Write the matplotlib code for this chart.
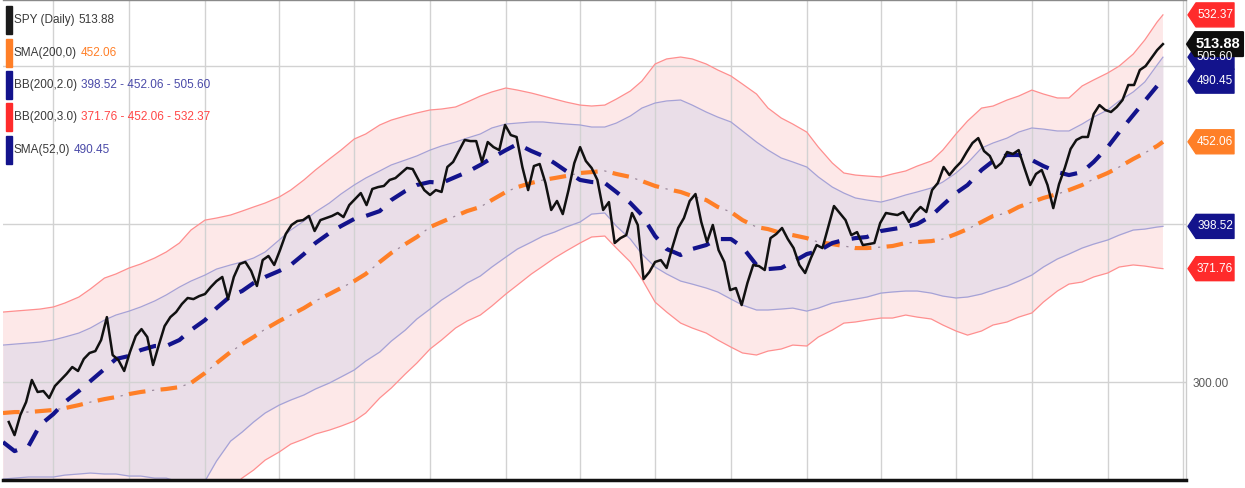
import pandas as pd
import matplotlib
matplotlib.use("Agg")
import matplotlib.pyplot as plt
import matplotlib.dates as mdates
from matplotlib.patches import Polygon, Rectangle
from matplotlib.transforms import IdentityTransform

plt.rcParams['font.family'] = ['Liberation Sans', 'DejaVu Sans']
plt.rcParams['lines.scale_dashes'] = False

# SPY weekly closes
week_dates = pd.date_range('2020-05-08', periods=201, freq='W-FRI')
spy_close = [
    274.7, 266.4, 279.1, 287.3, 301.3, 293.7, 294.3, 289.9, 297.5, 301.3,
    305.1, 309.5, 307.0, 314.6, 318.4, 319.6, 326.6, 341.1, 317.1, 313.9,
    307.0, 319.0, 329.1, 333.5, 328.5, 310.8, 323.4, 335.4, 341.1, 344.3,
    349.4, 353.2, 352.5, 354.4, 355.7, 360.1, 363.9, 366.5, 352.5, 366.5,
    374.7, 376.0, 370.3, 360.8, 377.2, 379.8, 374.1, 383.5, 393.7, 399.4,
    401.9, 402.5, 405.1, 395.6, 402.5, 403.8, 405.1, 407.0, 404.4, 412.0,
    415.8, 419.6, 412.0, 422.2, 423.4, 424.1, 427.9, 429.1, 432.3, 435.5,
    434.8, 427.9, 421.5, 418.4, 421.5, 420.3, 436.1, 439.3, 446.2, 453.2,
    452.5, 452.5, 439.3, 451.9, 448.7, 446.8, 462.7, 456.3, 455.1, 436.1,
    421.5, 436.7, 438.0, 426.0, 408.9, 414.6, 406.3, 421.5, 438.6, 448.7,
    439.9, 435.5, 427.9, 408.9, 413.9, 388.0, 391.1, 393.0, 407.0, 399.4,
    365.2, 369.6, 376.0, 377.2, 372.2, 385.4, 397.5, 403.8, 414.6, 419.0,
    401.3, 388.6, 399.4, 383.5, 376.0, 358.2, 359.5, 348.7, 362.7, 374.1,
    373.4, 370.9, 391.1, 393.7, 397.5, 390.5, 384.8, 374.1, 369.0, 378.5,
    386.7, 384.8, 398.1, 411.4, 407.0, 402.5, 393.0, 394.9, 386.7, 387.3,
    388.0, 400.6, 407.0, 406.3, 405.7, 407.6, 401.3, 407.0, 410.8, 407.6,
    421.5, 426.0, 436.1, 431.0, 435.5, 439.3, 445.6, 451.3, 454.4, 446.2,
    443.1, 435.5, 438.6, 445.6, 444.3, 446.8, 435.5, 424.7, 431.7, 434.2,
    424.7, 410.1, 425.3, 435.5, 447.5, 453.2, 455.1, 455.1, 469.6, 475.3,
    472.2, 470.9, 474.1, 478.5, 488.0, 488.0, 497.5, 500.0, 505.1, 510.1,
    513.88,
]

# indicators, read on the 1st and 15th of each month plus the last bar
band_dates = pd.date_range('2020-05-01', '2024-03-01', freq='SMS').append(
    pd.DatetimeIndex(['2024-03-08']))
sma200 = [
    280.4, 281.0, 281.0, 281.6, 282.3, 283.5, 285.4, 287.3, 289.2, 290.5,
    292.4, 293.7, 294.9, 295.6, 296.8, 299.4, 305.7, 312.0, 319.0, 324.0,
    328.5, 333.5, 338.6, 342.4, 346.8, 351.3, 355.7, 359.5, 363.9, 368.4,
    376.0, 381.7, 387.3, 391.8, 398.1, 401.3, 405.1, 408.2, 410.8, 415.2,
    420.3, 423.4, 426.0, 427.9, 429.1, 430.4, 432.3, 432.9, 433.6, 431.7,
    429.8, 427.2, 424.1, 422.2, 420.3, 417.7, 415.2, 410.8, 407.6, 402.5,
    398.1, 396.8, 394.3, 393.0, 391.1, 388.6, 387.3, 386.1, 384.8, 384.8,
    385.4, 386.1, 388.0, 388.6, 389.2, 390.5, 393.7, 396.8, 401.3, 405.1,
    407.0, 410.8, 413.9, 416.5, 419.0, 421.5, 424.7, 428.5, 432.3, 436.1,
    441.2, 445.0, 449.4, 452.06,
]
sma52 = [
    262.0, 256.3, 259.5, 272.8, 279.7, 287.3, 294.3, 300.6, 308.2, 314.6,
    316.5, 320.2, 322.8, 322.8, 326.6, 332.9, 339.2, 346.8, 354.4, 357.6,
    362.7, 366.5, 370.3, 374.1, 381.0, 388.0, 394.3, 398.7, 403.2, 405.1,
    408.2, 415.2, 420.9, 424.7, 426.6, 426.0, 429.8, 432.9, 437.4, 441.8,
    446.8, 450.6, 446.2, 443.1, 438.6, 433.6, 427.9, 426.6, 426.0, 420.3,
    413.3, 405.7, 392.4, 384.2, 380.4, 384.2, 386.7, 390.5, 390.5, 385.4,
    374.1, 371.5, 372.2, 376.0, 381.0, 382.9, 388.0, 389.9, 391.1, 391.8,
    395.6, 396.8, 398.1, 400.0, 405.1, 412.0, 419.6, 424.7, 434.2, 439.9,
    443.7, 443.7, 440.5, 436.7, 432.9, 431.0, 432.9, 439.3, 448.7, 458.2,
    469.0, 477.9, 487.4, 490.45,
]
bb2_upper = [
    323.4, 324.0, 324.7, 325.3, 326.6, 328.5, 331.0, 334.2, 339.2, 342.4,
    344.9, 347.5, 351.3, 355.1, 360.1, 363.9, 367.7, 371.5, 374.1, 376.0,
    378.5, 382.3, 389.9, 396.2, 401.9, 407.6, 413.3, 419.0, 424.7, 429.1,
    433.6, 437.4, 440.5, 443.1, 446.8, 449.4, 451.9, 454.4, 457.0, 460.8,
    463.3, 463.9, 464.6, 464.6, 463.9, 463.3, 462.7, 461.4, 461.4, 463.9,
    468.4, 473.4, 476.6, 477.9, 478.5, 475.3, 470.9, 467.7, 464.6, 458.9,
    451.9, 446.8, 441.8, 439.3, 436.1, 429.8, 423.4, 419.6, 416.5, 415.2,
    413.9, 415.8, 418.4, 420.3, 422.8, 426.6, 432.3, 438.6, 448.1, 451.3,
    454.4, 458.2, 460.8, 460.1, 458.9, 458.9, 463.3, 467.7, 472.2, 477.9,
    483.6, 489.9, 500.7, 505.60,
]
bb2_lower = [
    238.6, 239.2, 239.9, 239.9, 239.9, 241.1, 241.8, 242.4, 241.8, 241.8,
    240.5, 240.5, 239.2, 239.2, 236.7, 237.3, 237.3, 250.0, 262.6, 268.3,
    274.7, 280.4, 285.4, 288.6, 291.8, 295.6, 299.4, 303.2, 307.6, 313.3,
    319.0, 325.9, 332.9, 339.9, 346.2, 351.9, 357.6, 362.7, 367.1, 372.8,
    379.1, 384.2, 388.6, 392.4, 394.9, 398.1, 401.3, 406.3, 407.0, 398.7,
    390.5, 381.0, 372.8, 368.4, 363.9, 362.0, 359.5, 357.0, 352.5, 348.7,
    345.6, 345.6, 346.2, 346.8, 344.9, 346.8, 350.0, 351.3, 352.5, 353.8,
    356.3, 357.0, 357.6, 357.6, 356.3, 354.4, 353.2, 353.8, 355.7, 358.2,
    360.8, 363.9, 367.7, 372.8, 377.9, 381.0, 384.8, 387.3, 389.9, 393.0,
    396.2, 396.8, 398.1, 398.52,
]
bb3_upper = [
    344.3, 344.9, 345.6, 346.2, 347.5, 350.0, 353.8, 358.9, 365.8, 368.4,
    372.2, 374.7, 378.5, 382.3, 388.0, 396.2, 402.5, 403.8, 405.7, 408.2,
    410.8, 413.3, 417.1, 421.5, 427.9, 434.2, 441.2, 446.8, 453.8, 457.0,
    462.7, 465.8, 468.4, 470.3, 472.2, 472.8, 474.1, 477.2, 481.0, 483.6,
    486.1, 484.8, 482.9, 481.0, 479.1, 477.2, 475.3, 474.7, 475.3, 479.1,
    484.2, 490.5, 501.3, 504.5, 505.7, 504.5, 501.3, 497.5, 493.7, 488.6,
    482.3, 473.4, 467.1, 463.3, 458.2, 448.7, 438.6, 432.3, 431.0, 430.4,
    429.8, 431.7, 433.6, 436.7, 439.9, 446.8, 457.0, 465.2, 473.4, 474.7,
    478.5, 481.0, 484.8, 482.3, 479.8, 479.8, 487.4, 491.2, 495.6, 500.0,
    507.6, 516.5, 527.9, 532.37,
]
bb3_lower = [
    216.4, 217.1, 216.4, 217.1, 217.1, 217.1, 217.1, 215.8, 212.6, 212.6,
    212.6, 212.6, 211.4, 208.8, 205.7, 202.5, 208.8, 220.2, 232.3, 239.2,
    244.3, 250.6, 255.7, 260.7, 263.9, 267.1, 269.6, 272.1, 275.3, 280.4,
    289.9, 296.2, 305.1, 312.0, 320.9, 326.6, 334.2, 338.6, 342.4, 348.1,
    355.7, 361.4, 368.4, 373.4, 378.5, 382.9, 388.0, 391.8, 392.4, 384.8,
    376.0, 365.2, 350.6, 344.3, 337.3, 334.2, 331.0, 326.6, 322.1, 318.4,
    317.1, 319.6, 320.9, 323.4, 322.8, 328.5, 332.9, 337.3, 338.0, 339.2,
    340.5, 340.5, 342.4, 341.1, 339.9, 336.1, 332.3, 329.7, 332.3, 336.1,
    338.0, 341.1, 343.7, 350.6, 357.6, 362.0, 363.3, 366.5, 369.0, 372.8,
    374.1, 373.4, 372.2, 371.76,
]

ORANGE = '#ff7f27'
NAVY = '#13138c'
RED = '#ff2b2b'
VALUE_BLUE = '#4a4aa8'

fig = plt.figure(figsize=(12.45, 4.88), dpi=100)
ax = fig.add_axes([3 / 1245, 8 / 488, 1183 / 1245, 480 / 488])

# bands
ax.fill_between(band_dates, bb3_lower, bb3_upper, color='#fde8e8', lw=0, zorder=0.5)
ax.fill_between(band_dates, bb2_lower, bb2_upper, color='#eadee8', lw=0, zorder=0.6)
ax.plot(band_dates, bb3_upper, color='#ff8f8f', lw=0.9, zorder=2)
ax.plot(band_dates, bb3_lower, color='#ff8f8f', lw=0.9, zorder=2)
ax.plot(band_dates, bb2_upper, color='#a6a2d6', lw=0.9, zorder=2)
ax.plot(band_dates, bb2_lower, color='#a6a2d6', lw=0.9, zorder=2)

# SMA(200): thick orange dashes with a thin dot in each gap
ax.plot(band_dates, sma200, color='#9c8a9c', lw=0.9, zorder=2.1,
        linestyle=(6.2, (1.6, 21.4)))
ax.plot(band_dates, sma200, color=ORANGE, lw=3.0, zorder=2.2,
        linestyle=(0, (12, 11)))
# SMA(52)
ax.plot(band_dates, sma52, color=NAVY, lw=3.0, zorder=2.3,
        linestyle=(0, (12.5, 9)))
# price
ax.plot(week_dates, spy_close, color='#111111', lw=1.8, zorder=3)

ax.set_xlim(pd.Timestamp('2020-05-01'), pd.Timestamp('2024-04-05'))
ax.set_ylim(238.0, 541.8)

ax.xaxis.set_major_locator(mdates.MonthLocator(bymonth=[1, 4, 7, 10]))
ax.set_yticks([300, 400, 500], labels=['300.00', '', ''])
ax.yaxis.tick_right()
ax.tick_params(axis='y', length=0, pad=5, labelsize=8.5, labelcolor='#5a5a5a')
ax.tick_params(axis='x', length=0, labelbottom=False)
ax.grid(True, color='#d2d2d2', lw=1.0)

ax.spines['left'].set_visible(False)
ax.spines['top'].set_color('#8a8a8a')
ax.spines['top'].set_linewidth(1.0)
ax.spines['right'].set_color('#cccccc')
ax.spines['right'].set_linewidth(1.0)
ax.spines['bottom'].set_color('#111111')
ax.spines['bottom'].set_linewidth(2.5)

# legend rows at top-left
legend_rows = [
    ('SPY (Daily)', '513.88', '#1a1a1a', '#3a3a3a'),
    ('SMA(200,0)', '452.06', ORANGE, ORANGE),
    ('BB(200,2.0)', '398.52 - 452.06 - 505.60', NAVY, VALUE_BLUE),
    ('BB(200,3.0)', '371.76 - 452.06 - 532.37', RED, '#ff4646'),
    ('SMA(52,0)', '490.45', NAVY, VALUE_BLUE),
]
row_y = [20, 53, 85, 117, 150]
for (label, value, bar_color, value_color), y in zip(legend_rows, row_y):
    fig.add_artist(Rectangle((6, 488 - y - 14), 6, 28, color=bar_color,
                             transform=IdentityTransform()))
    t = fig.text(14 / 1245, 1 - y / 488, label, fontsize=8.5, color='#3a3a3a',
                 va='center', ha='left')
    ax.annotate(value, xy=(1, 0.5), xycoords=t, xytext=(2.5, 0),
                textcoords='offset points', va='center', ha='left',
                fontsize=8.5, color=value_color, annotation_clip=False)

# price badges on the right axis
badges = [
    (532.37, '532.37', RED),
    (505.60, '505.60', NAVY),
    (490.45, '490.45', NAVY),
    (452.06, '452.06', ORANGE),
    (398.52, '398.52', NAVY),
    (371.76, '371.76', RED),
]
for value, text, color in badges:
    yd = ax.transData.transform((0, value))[1]
    verts = [(1188, yd), (1196, yd + 12), (1234, yd + 12), (1234, yd - 12), (1196, yd - 12)]
    fig.add_artist(Polygon(verts, closed=True, fc=color, ec=color, lw=1,
                           joinstyle='round', transform=IdentityTransform()))
    fig.text(1215 / 1245, yd / 488, text, color='white', fontsize=8.5,
             ha='center', va='center')

yd = ax.transData.transform((0, 513.88))[1]
verts = [(1187, yd), (1195, yd + 12), (1243, yd + 12), (1243, yd - 12), (1195, yd - 12)]
fig.add_artist(Polygon(verts, closed=True, fc='#0d0d0d', ec='#0d0d0d', lw=1.5,
                       joinstyle='round', transform=IdentityTransform()))
fig.text(1218 / 1245, yd / 488, '513.88', color='white', fontsize=10.5,
         fontweight='bold', ha='center', va='center')

fig.savefig('out.png', dpi=100)
